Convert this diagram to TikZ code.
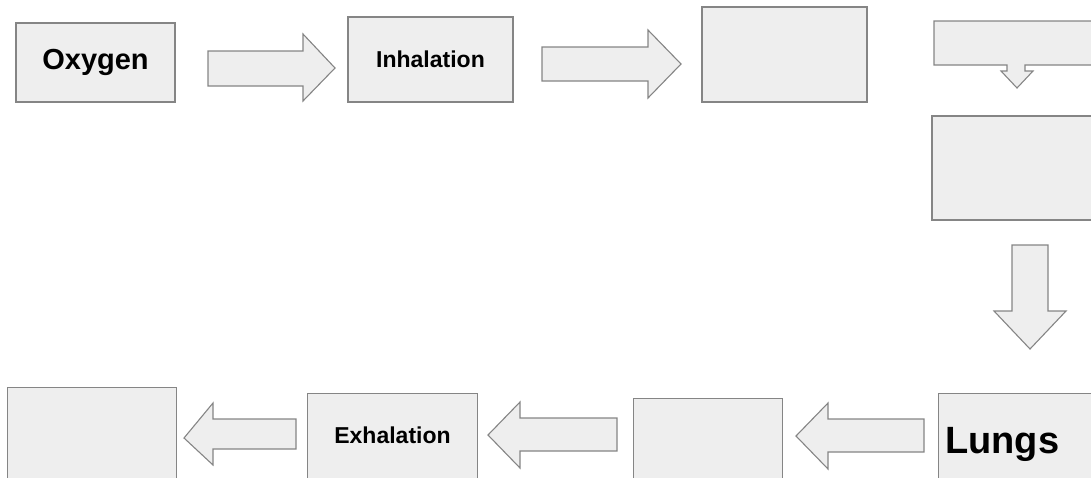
\documentclass[tikz,border=0pt]{standalone}
\usepackage{fontspec}
\setmainfont{Liberation Sans}
\definecolor{boxfill}{HTML}{EEEEEE}
\definecolor{boxline}{HTML}{858585}
\begin{document}
\begin{tikzpicture}[x=1pt,y=-1pt,
  box/.style={draw=boxline,fill=boxfill,line width=1.1pt,rectangle,inner sep=0pt,font=\bfseries},
  blockarrow/.style={draw=boxline,fill=boxfill,line width=1.1pt,line join=miter}]
\useasboundingbox (0,0) rectangle (1091,477);
\clip (0,0) rectangle (1091,477);
% top row
\node[box,minimum width=159pt,minimum height=79pt,font=\bfseries\fontsize{29}{32}\selectfont] (oxy) at (95.5,62.5) {Oxygen};
\node[box,minimum width=165pt,minimum height=85pt,font=\bfseries\fontsize{23}{26}\selectfont] (inh) at (430.5,59.5) {Inhalation};
\node[box,minimum width=165pt,minimum height=95pt] (b3) at (784.5,54.5) {};
% right column
\draw[blockarrow] (934,21) -- (1100,21) -- (1100,65) -- (1025,65) -- (1025,71) -- (1033,71)
  -- (1017,88) -- (1001,71) -- (1007,71) -- (1007,65) -- (934,65) -- cycle;
\node[box,minimum width=168pt,minimum height=104pt] (b5) at (1016,168) {};
% bottom row
\node[box,minimum width=170pt,minimum height=100pt,anchor=north west] (lungs) at (938,393) {};
\node[font=\bfseries\fontsize{38}{42}\selectfont,anchor=base west,inner sep=0pt] (lungstxt) at (945,453) {Lungs};
\node[box,minimum width=149pt,minimum height=100pt,anchor=north west] (b7) at (633,398) {};
\node[box,minimum width=170pt,minimum height=100pt,anchor=north west] (exh) at (307,393) {};
\node[font=\bfseries\fontsize{23}{26}\selectfont] (exhtxt) at (392.5,435) {Exhalation};
\node[box,minimum width=169pt,minimum height=110pt,anchor=north west] (b9) at (7,387) {};
% block arrows
\draw[blockarrow] (208,51) -- (303,51) -- (303,34) -- (335,68) -- (303,101) -- (303,86) -- (208,86) -- cycle;
\draw[blockarrow] (542,47) -- (648,47) -- (648,30) -- (681,64) -- (648,98) -- (648,81) -- (542,81) -- cycle;
\draw[blockarrow] (1012,245) -- (1048,245) -- (1048,311) -- (1066,311) -- (1030,349) -- (994,311) -- (1012,311) -- cycle;
\draw[blockarrow] (924,419) -- (828,419) -- (828,403) -- (796,436) -- (828,469) -- (828,452) -- (924,452) -- cycle;
\draw[blockarrow] (617,418) -- (520,418) -- (520,402) -- (488,435) -- (520,468) -- (520,451) -- (617,451) -- cycle;
\draw[blockarrow] (296,419) -- (213,419) -- (213,403) -- (184,438) -- (213,465) -- (213,449) -- (296,449) -- cycle;
\end{tikzpicture}
\end{document}
